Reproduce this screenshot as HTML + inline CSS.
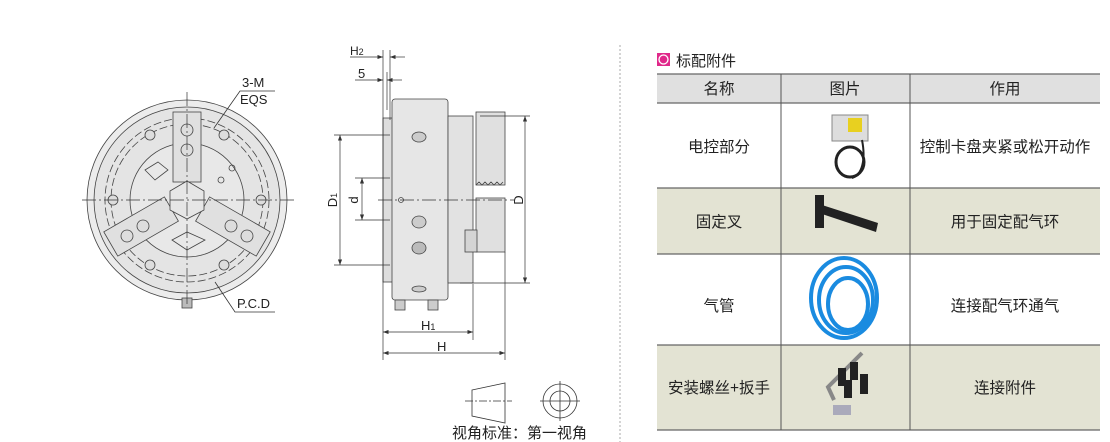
<!DOCTYPE html>
<html><head><meta charset="utf-8"><style>
body{margin:0;background:#fff;width:1110px;height:442px;overflow:hidden;font-family:"Liberation Sans","Noto Sans CJK SC",sans-serif}
svg{position:absolute;left:0;top:0}
</style></head><body>
<svg width="1110" height="442" viewBox="0 0 1110 442" font-family="Liberation Sans, Noto Sans CJK SC, sans-serif">
<defs><marker id="a" markerWidth="8" markerHeight="6" refX="8" refY="3" orient="auto-start-reverse"><path d="M0,0L8,3L0,6z" fill="#333"/></marker></defs>
<!-- front view -->
<g stroke="#444" fill="none" stroke-width="0.8">
<circle cx="187" cy="200" r="100" fill="#ececec"/>
<circle cx="187" cy="200" r="93" fill="#e4e4e4"/>
<circle cx="187" cy="200" r="82" stroke-dasharray="8 3"/>
<circle cx="187" cy="200" r="76" stroke-dasharray="8 3"/>
<circle cx="187" cy="200" r="57" fill="#e8e8e8"/>
<rect x="173" y="112" width="28" height="70" fill="#e0e0e0"/>
<g transform="rotate(120 187 200)"><rect x="173" y="112" width="28" height="70" fill="#e0e0e0"/></g>
<g transform="rotate(240 187 200)"><rect x="173" y="112" width="28" height="70" fill="#e0e0e0"/></g>
<path d="M187,181L204,191L204,210L187,219L170,210L170,191Z" fill="#e6e6e6"/>
<g fill="#ddd">
<circle cx="187" cy="130" r="6"/><circle cx="187" cy="150" r="6"/>
<circle cx="127" cy="236" r="6"/><circle cx="143" cy="226" r="6"/>
<circle cx="247" cy="236" r="6"/><circle cx="231" cy="226" r="6"/>
<circle cx="150" cy="135" r="5"/><circle cx="224" cy="135" r="5"/>
<circle cx="113" cy="200" r="5"/><circle cx="261" cy="200" r="5"/>
<circle cx="150" cy="265" r="5"/><circle cx="224" cy="265" r="5"/>
</g>
<path d="M145,170L158,162L168,170L155,180Z"/>
<path d="M172,240L187,232L205,240L187,250Z"/>
<circle cx="232" cy="168" r="3"/><circle cx="221" cy="180" r="3"/>
<rect x="182" y="298" width="10" height="10" fill="#bbb"/>
</g>
<g stroke="#333" stroke-width="0.7" stroke-dasharray="14 3 2 3"><line x1="82" y1="200" x2="295" y2="200"/><line x1="187" y1="92" x2="187" y2="305"/></g>
<g stroke="#333" stroke-width="0.8" fill="none"><path d="M275,91L240,91L214,128"/><path d="M275,312L235,312L215,282"/></g>
<text x="242" y="87" font-size="13" fill="#222">3-M</text>
<text x="240" y="104" font-size="13" fill="#222">EQS</text>
<text x="237" y="308" font-size="13" fill="#222">P.C.D</text>
<!-- side view -->
<g stroke="#444" stroke-width="0.8">
<rect x="383" y="118" width="10" height="164" fill="#ddd"/>
<rect x="392" y="99" width="56" height="201" rx="3" fill="#e6e6e6"/>
<rect x="448" y="116" width="25" height="167" fill="#e2e2e2"/>
<rect x="476" y="112" width="29" height="73" fill="#e0e0e0"/>
<rect x="476" y="198" width="29" height="54" fill="#e0e0e0"/>
<rect x="465" y="230" width="12" height="22" fill="#d4d4d4"/>
<rect x="395" y="300" width="10" height="10" fill="#ccc"/><rect x="428" y="300" width="10" height="10" fill="#ccc"/>
<ellipse cx="419" cy="137" rx="7" ry="5" fill="#ccc"/>
<ellipse cx="419" cy="222" rx="7" ry="6" fill="#ccc"/>
<ellipse cx="419" cy="248" rx="7" ry="6" fill="#bbb"/>
<ellipse cx="419" cy="289" rx="7" ry="3" fill="#ccc"/>
<circle cx="401" cy="200" r="2.5" fill="none"/>
<path d="M476,185l3,-3l3,3l3,-3l3,3l3,-3l3,3l3,-3l3,3l3,-3" fill="none"/>
</g>
<line x1="378" y1="200" x2="515" y2="200" stroke="#333" stroke-width="0.7" stroke-dasharray="14 3 2 3"/>
<g stroke="#333" stroke-width="0.7" fill="none">
<line x1="383" y1="50" x2="383" y2="360"/><line x1="390" y1="50" x2="390" y2="120"/><line x1="387" y1="72" x2="387" y2="110"/>
<line x1="505" y1="252" x2="505" y2="360"/><line x1="473" y1="284" x2="473" y2="340"/>
<line x1="480" y1="116" x2="530" y2="116"/><line x1="460" y1="283" x2="530" y2="283"/>
<line x1="334" y1="135" x2="390" y2="135"/><line x1="334" y1="265" x2="390" y2="265"/>
<line x1="355" y1="178" x2="390" y2="178"/><line x1="355" y1="220" x2="390" y2="220"/>
<line x1="525" y1="116" x2="525" y2="283" marker-start="url(#a)" marker-end="url(#a)"/>
<line x1="340" y1="135" x2="340" y2="265" marker-start="url(#a)" marker-end="url(#a)"/>
<line x1="362" y1="178" x2="362" y2="220" marker-start="url(#a)" marker-end="url(#a)"/>
<line x1="383" y1="332" x2="473" y2="332" marker-start="url(#a)" marker-end="url(#a)"/>
<line x1="383" y1="353" x2="505" y2="353" marker-start="url(#a)" marker-end="url(#a)"/>
<line x1="350" y1="57" x2="383" y2="57" marker-end="url(#a)"/><line x1="405" y1="57" x2="390" y2="57" marker-end="url(#a)"/>
<line x1="355" y1="80" x2="383" y2="80" marker-end="url(#a)"/><line x1="402" y1="80" x2="387" y2="80" marker-end="url(#a)"/>
</g>
<text x="350" y="55" font-size="12" fill="#222">H<tspan font-size="9">2</tspan></text>
<text x="358" y="78" font-size="13" fill="#222">5</text>
<text x="421" y="330" font-size="13" fill="#222">H<tspan font-size="9">1</tspan></text>
<text x="437" y="351" font-size="13" fill="#222">H</text>
<text transform="translate(337,200) rotate(-90)" text-anchor="middle" font-size="13" fill="#222">D<tspan font-size="9">1</tspan></text>
<text transform="translate(358,200) rotate(-90)" text-anchor="middle" font-size="13" fill="#222">d</text>
<text transform="translate(523,200) rotate(-90)" text-anchor="middle" font-size="13" fill="#222">D</text>
<!-- projection symbol -->
<g stroke="#333" stroke-width="0.8" fill="none">
<path d="M472,390L505,383L505,423L472,416Z"/>
<line x1="465" y1="401" x2="512" y2="401" stroke-dasharray="8 2 2 2"/>
<circle cx="560" cy="401" r="17"/><circle cx="560" cy="401" r="10"/>
<line x1="540" y1="401" x2="580" y2="401"/><line x1="560" y1="381" x2="560" y2="421"/>
</g>
<text x="452" y="438" font-size="15" fill="#222">视角标准：第一视角</text>
<line x1="620" y1="45" x2="620" y2="442" stroke="#aaa" stroke-dasharray="2 2"/>
<!-- table -->
<rect x="657" y="53" width="13" height="13" fill="#e0288a"/><circle cx="663.5" cy="59.5" r="4.5" fill="none" stroke="#fff" stroke-width="1.3"/>
<text x="676" y="66" font-size="15" fill="#222">标配附件</text>
<rect x="657" y="74" width="443" height="29" fill="#e0e0e0"/>
<rect x="657" y="188" width="443" height="66" fill="#e3e3d3"/>
<rect x="657" y="345" width="443" height="85" fill="#e3e3d3"/>
<g stroke="#666" stroke-width="1.2"><line x1="657" y1="74" x2="1100" y2="74"/><line x1="657" y1="103" x2="1100" y2="103"/><line x1="657" y1="188" x2="1100" y2="188"/><line x1="657" y1="254" x2="1100" y2="254"/><line x1="657" y1="345" x2="1100" y2="345"/><line x1="657" y1="430" x2="1100" y2="430"/></g>
<g stroke="#555" stroke-width="1"><line x1="781" y1="74" x2="781" y2="430"/><line x1="910" y1="74" x2="910" y2="430"/></g>
<g font-size="15.5" fill="#222" text-anchor="middle">
<text x="719" y="94">名称</text><text x="845" y="94">图片</text><text x="1005" y="94">作用</text>
<text x="719" y="152">电控部分</text><text x="1005" y="152">控制卡盘夹紧或松开动作</text>
<text x="719" y="227">固定叉</text><text x="1005" y="227">用于固定配气环</text>
<text x="719" y="311">气管</text><text x="1005" y="311">连接配气环通气</text>
<text x="719" y="393">安装螺丝+扳手</text><text x="1005" y="393">连接附件</text>
</g>
<!-- pictures -->
<rect x="832" y="115" width="36" height="26" fill="#ddd" stroke="#888"/>
<rect x="848" y="118" width="14" height="14" fill="#e8d020"/>
<ellipse cx="850" cy="162" rx="14" ry="15" fill="none" stroke="#222" stroke-width="3"/>
<path d="M862,140C866,160 862,175 852,178" fill="none" stroke="#222" stroke-width="2"/>
<path d="M815,195L824,195L824,228L815,228Z" fill="#222"/>
<path d="M822,205L878,223L876,232L822,214Z" fill="#222"/>
<g fill="none" stroke="#1a8be0" stroke-width="4"><ellipse cx="844" cy="298" rx="33" ry="40"/><ellipse cx="846" cy="300" rx="27" ry="33"/><ellipse cx="848" cy="304" rx="20" ry="26"/></g>
<path d="M862,353L828,387L834,400" fill="none" stroke="#888" stroke-width="4"/>
<g fill="#222"><rect x="838" y="368" width="8" height="18"/><rect x="850" y="362" width="8" height="18"/><rect x="860" y="374" width="8" height="20"/><rect x="844" y="380" width="8" height="18"/></g>
<rect x="833" y="405" width="18" height="10" fill="#aab"/>
</svg>
</body></html>
